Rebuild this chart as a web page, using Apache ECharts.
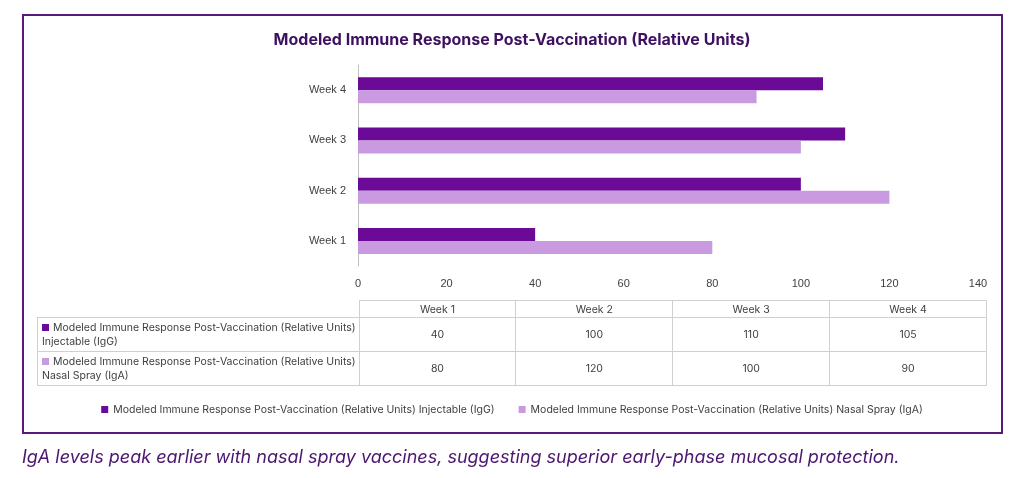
<!DOCTYPE html>
<html><head><meta charset="utf-8">
<script src="https://cdn.jsdelivr.net/npm/echarts@6/dist/echarts.min.js"></script>
<style>
body{margin:0;background:#fff;font-family:Inter,"Noto Sans",sans-serif;}
#box{position:absolute;left:22px;top:14px;width:977px;height:416px;border:2px solid #5a1a7a;}
#chart{position:absolute;left:0;top:0;width:1024px;height:478px;}
table{position:absolute;left:37px;top:300px;width:950px;table-layout:fixed;border-collapse:collapse;font-size:10.5px;color:#404040;}
td{border:1px solid #d0d0d0;text-align:center;height:16px;padding:0;}
td.lab{text-align:left;padding-left:4px;line-height:14px;white-space:nowrap;overflow:hidden;}
tr.v td{height:33px;}
.sw{display:inline-block;width:7px;height:7px;margin-right:4px;}
#cap{position:absolute;left:22px;top:446px;font-style:italic;color:#4b1670;font-size:18px;}
</style></head><body>
<div id="box"></div>
<div id="chart"></div>
<table id="tbl"></table>
<div id="cap">IgA levels peak earlier with nasal spray vaccines, suggesting superior early-phase mucosal protection.</div>
<script>
var categories = ['Week 1', 'Week 2', 'Week 3', 'Week 4'];
var igg = [40, 100, 110, 105];
var iga = [80, 120, 100, 90];
var nameIgg = 'Modeled Immune Response Post-Vaccination (Relative Units) Injectable (IgG)';
var nameIga = 'Modeled Immune Response Post-Vaccination (Relative Units) Nasal Spray (IgA)';
var colIgg = '#6a0a96', colIga = '#c99ae0';

// 数据表
var html = '<tr><td class="lab" style="width:317px;border-top:none;border-left:none"></td>';
categories.forEach(function(c){ html += '<td>' + c + '</td>'; });
html += '</tr>';
[[igg, colIgg, 'Injectable (IgG)'], [iga, colIga, 'Nasal Spray (IgA)']].forEach(function(r){
    html += '<tr class="v"><td class="lab"><span class="sw" style="background:' + r[1] + '"></span>Modeled Immune Response Post-Vaccination (Relative Units)<br>' + r[2] + '</td>';
    r[0].forEach(function(v){ html += '<td>' + v + '</td>'; });
    html += '</tr>';
});
document.getElementById('tbl').innerHTML = html;

var myChart = echarts.init(document.getElementById('chart'));
var option = {
    title: {
        text: 'Modeled Immune Response Post-Vaccination (Relative Units)',
        left: 'center', top: 27,
        textStyle: {fontSize: 16, fontWeight: 'bold', color: '#3d1060', fontFamily: 'Inter'}
    },
    legend: {
        bottom: 58, itemWidth: 7, itemHeight: 7, icon: 'rect', itemGap: 24,
        data: [nameIgg, nameIga],
        textStyle: {color: '#404040', fontSize: 10.5, fontFamily: 'Inter'}
    },
    grid: {left: 358, right: 46, top: 65, bottom: 212},
    xAxis: {
        type: 'value', min: 0, max: 140, interval: 20,
        splitLine: {show: false},
        axisLabel: {color: '#404040', fontSize: 11, margin: 12}
    },
    yAxis: {
        type: 'category', data: categories,
        axisTick: {show: false},
        axisLine: {lineStyle: {color: '#bfbfbf'}},
        axisLabel: {color: '#404040', fontSize: 11, margin: 12}
    },
    series: [
        {name: nameIgg, type: 'bar', data: igg, itemStyle: {color: colIgg}, barWidth: 13, barGap: '0%'},
        {name: nameIga, type: 'bar', data: iga, itemStyle: {color: colIga}, barWidth: 13, barGap: '0%'}
    ]
};
myChart.setOption(option);
</script>
</body></html>
